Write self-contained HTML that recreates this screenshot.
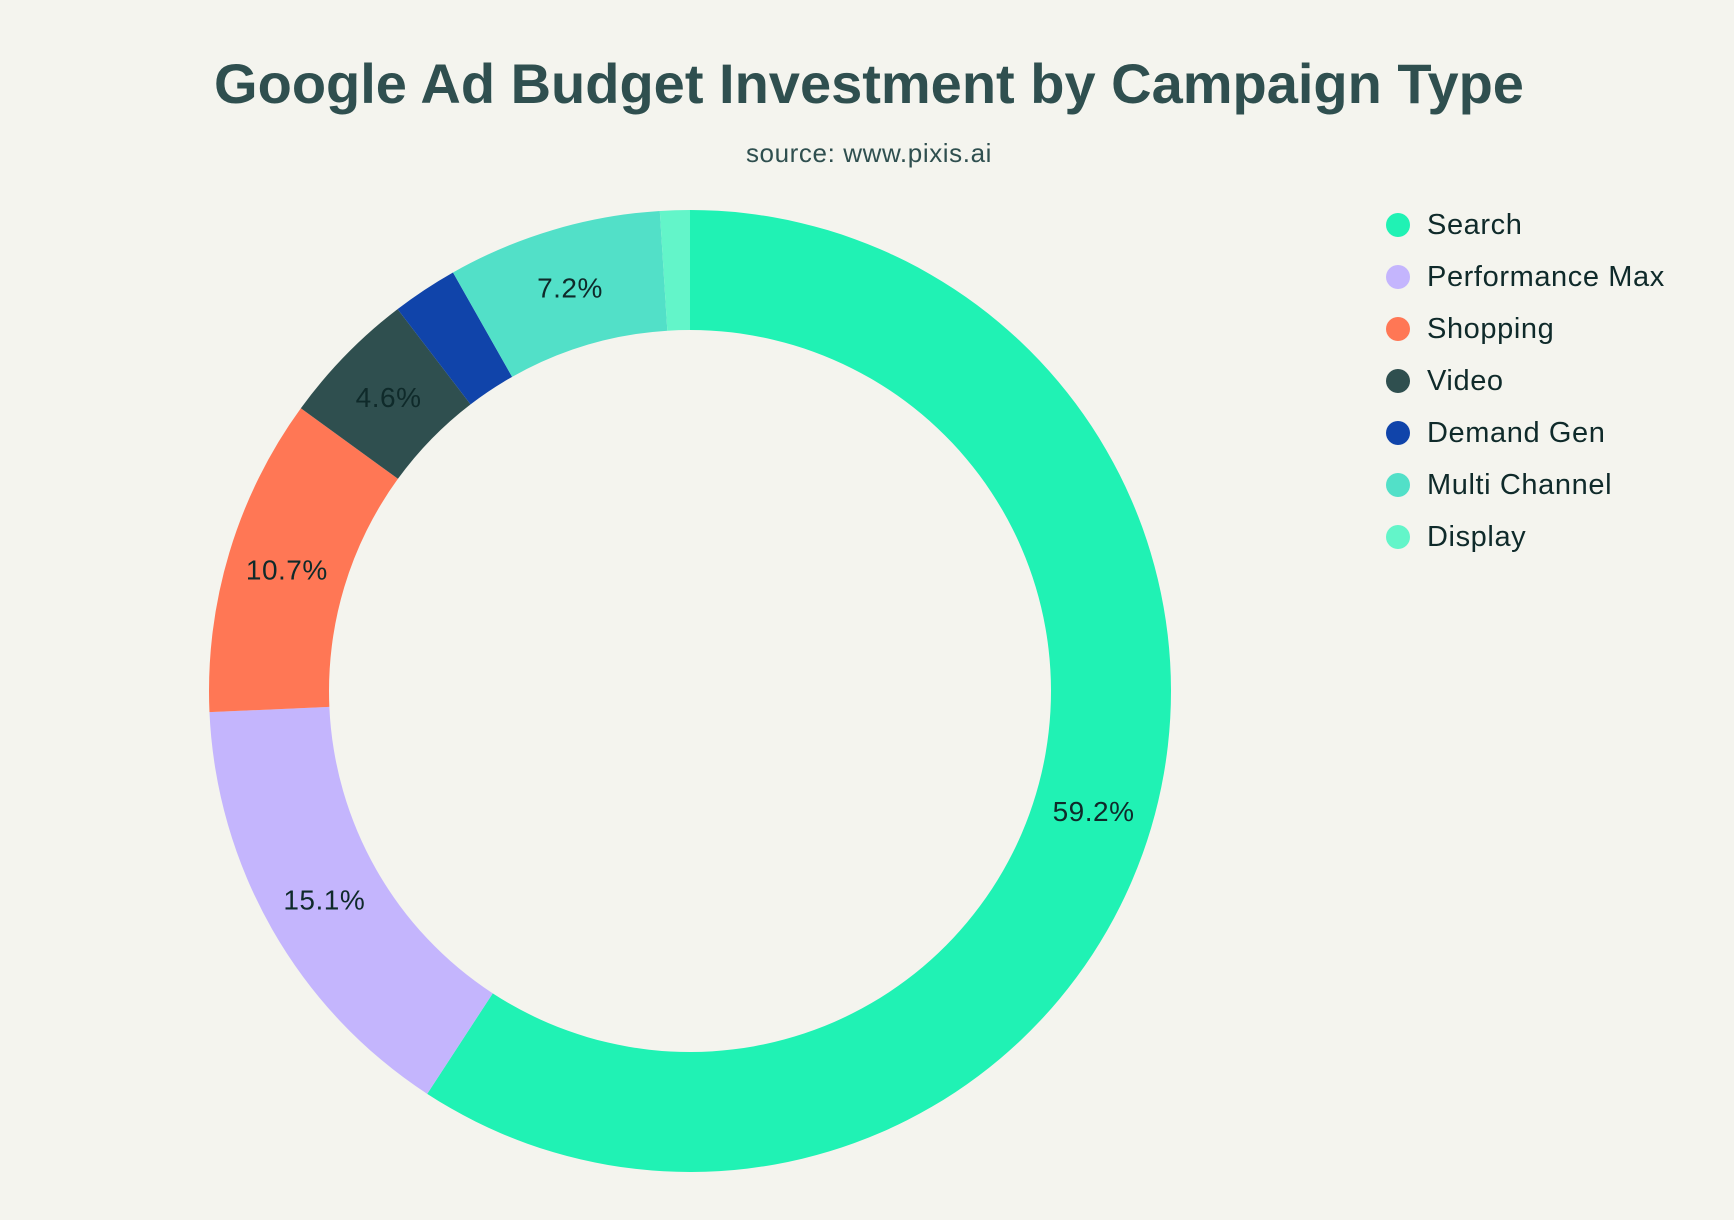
<!DOCTYPE html>
<html><head><meta charset="utf-8"><style>
html,body{margin:0;padding:0;background:#F4F4EE;}
svg{display:block;}
</style></head><body>
<svg id="s" width="1734" height="1220" xmlns="http://www.w3.org/2000/svg" font-family="'Liberation Sans', sans-serif">
<rect width="1734" height="1220" fill="#F4F4EE"/>
<text x="869" y="103" text-anchor="middle" font-size="56" font-weight="bold" fill="#2F4F4F">Google Ad Budget Investment by Campaign Type</text>
<text x="869" y="162" text-anchor="middle" font-size="26" letter-spacing="0.6" fill="#2F4F4F">source: www.pixis.ai</text>
<g id="pie"></g>
<g font-size="29" letter-spacing="0.6" fill="#0F2A2A">
<circle cx="1398" cy="225" r="12" fill="#20F2B4"/><text x="1427" y="234">Search</text>
<circle cx="1398" cy="277" r="12" fill="#C4B5FD"/><text x="1427" y="286">Performance Max</text>
<circle cx="1398" cy="329" r="12" fill="#FF7755"/><text x="1427" y="338">Shopping</text>
<circle cx="1398" cy="381" r="12" fill="#2F4F4F"/><text x="1427" y="390">Video</text>
<circle cx="1398" cy="433" r="12" fill="#1044AA"/><text x="1427" y="442">Demand Gen</text>
<circle cx="1398" cy="485" r="12" fill="#52E0C8"/><text x="1427" y="494">Multi Channel</text>
<circle cx="1398" cy="537" r="12" fill="#63F5C9"/><text x="1427" y="546">Display</text>
</g>
</svg>
<script>
var d=[[59.2,"#20F2B4","59.2%"],[15.1,"#C4B5FD","15.1%"],[10.7,"#FF7755","10.7%"],[4.6,"#2F4F4F","4.6%"],[2.2,"#1044AA",""],[7.2,"#52E0C8","7.2%"],[1.0,"#63F5C9",""]];
var cx=690,cy=691,R=481,r=361,tot=0;d.forEach(function(x){tot+=x[0]});
var g=document.getElementById("pie"),a=0,h="";
function P(rad,ang){return [cx+rad*Math.sin(ang),cy-rad*Math.cos(ang)];}
d.forEach(function(x){var a0=a*2*Math.PI/tot;a+=x[0];var a1=a*2*Math.PI/tot;var L=(a1-a0)>Math.PI?1:0;
var p1=P(R,a0),p2=P(R,a1),p3=P(r,a1),p4=P(r,a0);
h+='<path d="M'+p1+' A'+R+' '+R+' 0 '+L+' 1 '+p2+' L'+p3+' A'+r+' '+r+' 0 '+L+' 0 '+p4+' Z" fill="'+x[1]+'"/>';
if(x[2]){var m=P(421,(a0+a1)/2);h+='<text x="'+m[0]+'" y="'+(m[1]+10)+'" text-anchor="middle" font-size="28" letter-spacing="0.5" fill="#0F2A2A">'+x[2]+'</text>';}});
g.innerHTML=h;
</script>
</body></html>
